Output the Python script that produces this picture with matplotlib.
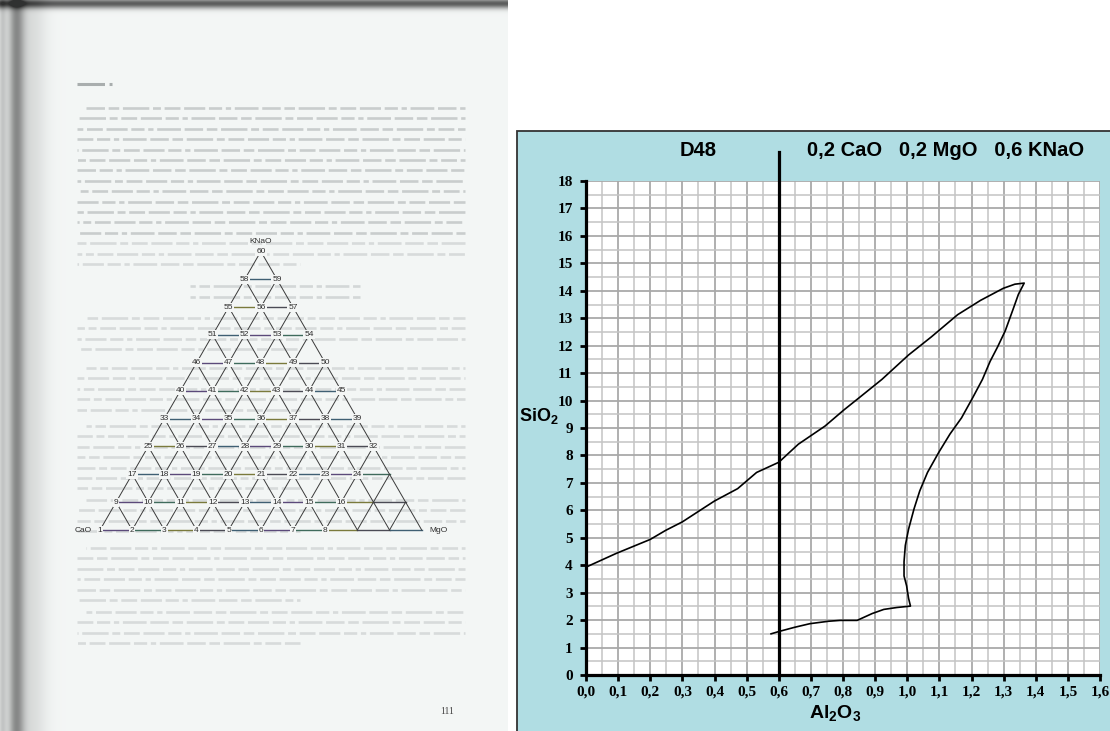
import numpy as np
import matplotlib
matplotlib.use("Agg")
import matplotlib.pyplot as plt
from matplotlib.patches import Rectangle

plt.rcParams['font.family'] = ['Liberation Sans', 'DejaVu Sans']
plt.rcParams['mathtext.fontset'] = 'custom'
plt.rcParams['mathtext.bf'] = 'Liberation Sans:bold'
plt.rcParams['mathtext.rm'] = 'Liberation Sans'

# ---------------- data: glaze field curve (D48) ----------------
al2o3 = [0.0, 0.094, 0.2, 0.248, 0.30, 0.342, 0.40, 0.472, 0.531, 0.60, 0.661, 0.744,
         0.803, 0.85, 0.921, 1.004, 1.075, 1.157, 1.228, 1.299, 1.335, 1.364,
         1.346, 1.328, 1.305, 1.281, 1.258, 1.234, 1.204, 1.169, 1.133, 1.098, 1.063,
         1.039, 1.021, 1.004, 0.994, 0.99, 0.99, 0.998, 1.004, 1.01,
         0.968, 0.927, 0.891, 0.844, 0.791, 0.756, 0.697, 0.65, 0.602, 0.576]
sio2 = [3.93, 4.43, 4.94, 5.27, 5.58, 5.90, 6.34, 6.79, 7.38, 7.75, 8.41, 9.07,
        9.66, 10.1, 10.77, 11.66, 12.32, 13.13, 13.65, 14.09, 14.24, 14.28,
        13.87, 13.28, 12.54, 11.95, 11.43, 10.77, 10.11, 9.37, 8.78, 8.11, 7.38,
        6.71, 6.05, 5.31, 4.72, 4.13, 3.61, 3.25, 2.80, 2.51,
        2.46, 2.39, 2.24, 1.99, 1.99, 1.96, 1.87, 1.74, 1.59, 1.50]
limit_al2o3 = 0.6
x_ticks = [0.0, 0.1, 0.2, 0.3, 0.4, 0.5, 0.6, 0.7, 0.8, 0.9, 1.0, 1.1, 1.2, 1.3, 1.4, 1.5, 1.6]
x_tick_labels = ["0,0", "0,1", "0,2", "0,3", "0,4", "0,5", "0,6", "0,7", "0,8", "0,9",
                 "1,0", "1,1", "1,2", "1,3", "1,4", "1,5", "1,6"]
y_ticks = list(range(0, 19))
y_tick_labels = [str(v) for v in y_ticks]
title_left = "D48"
title_right = "0,2 CaO   0,2 MgO   0,6 KNaO"
x_label = r"$\mathbf{Al_2O_3}$"
y_label = r"$\mathbf{SiO_2}$"

# ---------------- data: ternary diagram on the book page ----------------
tri_row_labelled = [8, 8, 8, 8, 7, 6, 5, 4, 3, 2, 1]   # numbered points per row
tri_corner_labels = ["CaO", "MgO", "KNaO"]
page_number = "111"

W, H = 1110, 731
fig = plt.figure(figsize=(W / 100, H / 100), dpi=100)
fig.patch.set_facecolor('white')

bg = fig.add_axes([0, 0, 1, 1])
bg.set_xlim(0, W)
bg.set_ylim(H, 0)
bg.axis('off')

# ---- scanned page background ----
PW = 508
xx = np.arange(PW)
yy = np.arange(H)
base = np.array([0.955, 0.965, 0.962])
dark_x = 0.42 * np.exp(-((xx - 16) / 8.0) ** 2) + 0.10 * np.exp(-((xx - 32) / 14.0) ** 2) \
    + 0.18 * np.exp(-((xx - 2) / 4.0) ** 2)
dark_y = 0.62 * np.exp(-((yy - 3) / 5.0) ** 2)
shade = 1 - np.clip(dark_x[None, :] + dark_y[:, None], 0, 0.8)
img = base[None, None, :] * shade[..., None]
bg.imshow(img, extent=(0, PW, H, 0), aspect='auto', zorder=0, interpolation='bilinear')

# faint body text of the page (illegible in the scan) shown as word strokes
page_col = (0.955, 0.965, 0.962)
word = (7, 1.4, 4, 1.4, 10, 1.4, 3, 1.4, 6, 1.4, 8, 1.4, 5, 1.4, 2, 1.4, 9, 1.4)
bg.plot([77, 112], [84, 84], color='#a9aeae', lw=2.2, ls=(0, (9, 1.5, 14, 1.5)), zorder=1)
paras = [(108, 16), (318, 4), (368, 5), (426, 7), (500, 4), (548, 6), (612, 4)]
line_no = 0
for y_start, n in paras:
    for k in range(n):
        y = y_start + 10.4 * k
        xs = 86 if k == 0 else 77
        xe = 300 if k == n - 1 else 465
        col = '#c9cdcd' if y < 240 else '#d7dbdb'
        bg.plot([xs, xe], [y, y], color=col, lw=1.9, ls=((line_no * 13) % 40, word), zorder=1)
        line_no += 1
for y in (286, 297):
    bg.plot([190, 360], [y, y], color='#d3d7d7', lw=1.9, ls=(5, word), zorder=1)

# ---- ternary triangle ----
x0, y0, s, h = 100.0, 530.0, 32.17, 27.86
nrows = len(tri_row_labelled)


def tri_pt(r, i):
    return x0 + (i + r / 2.0) * s, y0 - r * h


hcols = ['#5b4a7a', '#3f6b5c', '#7a7a3c', '#4b4b55', '#3f5f73']
seg = 0
for r in range(nrows):
    npts = nrows - r
    for i in range(npts - 1):
        xa, ya = tri_pt(r, i)
        xb, yb = tri_pt(r, i + 1)
        bg.plot([xa, xb], [ya, yb], color=hcols[seg % len(hcols)], lw=1.0, zorder=2)
        seg += 1
for i in range(nrows):
    xa, ya = tri_pt(0, i)
    xb, yb = tri_pt(nrows - 1 - i, i)
    bg.plot([xa, xb], [ya, yb], color='#3a3a3a', lw=0.7, zorder=2)
for k in range(nrows):
    xa, ya = tri_pt(0, k)
    xb, yb = tri_pt(k, 0)
    bg.plot([xa, xb], [ya, yb], color='#3a3a3a', lw=0.7, zorder=2)

num = 1
for r in range(nrows):
    for i in range(tri_row_labelled[r]):
        px, py = tri_pt(r, i)
        bg.text(px, py, str(num), fontsize=6, ha='center', va='center', color='#2e2e2e',
                zorder=3, bbox=dict(boxstyle='square,pad=0.12', fc=page_col, ec='none'))
        num += 1
lx, ly = tri_pt(0, 0)
rx, ry = tri_pt(0, nrows - 1)
ax_, ay_ = tri_pt(nrows - 1, 0)
bg.text(lx - 8, ly, tri_corner_labels[0], fontsize=6, ha='right', va='center', color='#2e2e2e', zorder=3)
bg.text(rx + 8, ry, tri_corner_labels[1], fontsize=6, ha='left', va='center', color='#2e2e2e', zorder=3)
bg.text(ax_, ay_ - 10, tri_corner_labels[2], fontsize=6, ha='center', va='center', color='#2e2e2e', zorder=3)
bg.text(447, 711, page_number, fontsize=7, ha='center', va='center', color='#444444',
        family=['Liberation Serif', 'DejaVu Serif'], zorder=3)

# ---- blue chart panel ----
bg.add_patch(Rectangle((517, 131), 620, 640, facecolor='#b0dde3', edgecolor='#333333',
                       lw=1.3, zorder=1))
bg.text(698, 151, title_left, fontsize=14.5, fontweight='bold', ha='center', va='center', zorder=3)
bg.text(807, 151, title_right, fontsize=14.5, fontweight='bold', ha='left', va='center', zorder=3)
bg.text(519, 416, y_label, fontsize=13, ha='left', va='center', zorder=3)
bg.text(835, 713, x_label, fontsize=14, ha='center', va='center', zorder=3)

# ---- the chart itself ----
L, R, T, B = 586, 1100, 181, 675
ax = fig.add_axes([L / W, 1 - B / H, (R - L) / W, (B - T) / H])
ax.set_facecolor('white')
ax.set_xlim(0, 1.6)
ax.set_ylim(0, 18)
for v in np.arange(0.05, 1.6, 0.1):
    ax.axvline(v, color='#c4c4c4', lw=1.1, zorder=1)
for v in np.arange(0.1, 1.61, 0.1):
    ax.axvline(v, color='#a9a9a9', lw=1.3, zorder=1)
for v in np.arange(0.5, 18, 1.0):
    ax.axhline(v, color='#c4c4c4', lw=1.1, zorder=1)
for v in range(1, 19):
    ax.axhline(v, color='#a9a9a9', lw=1.3, zorder=1)

ax.plot(al2o3, sio2, color='black', lw=1.2, zorder=3)
ax.plot([limit_al2o3, limit_al2o3], [0, 19.05], color='black', lw=2.3, zorder=4, clip_on=False)

for sp in ('top', 'right'):
    ax.spines[sp].set_visible(False)
for sp in ('left', 'bottom'):
    ax.spines[sp].set_linewidth(2.3)
    ax.spines[sp].set_zorder(5)
ax.set_xticks(x_ticks)
ax.set_xticklabels(x_tick_labels)
ax.set_yticks(y_ticks)
ax.set_yticklabels(y_tick_labels)
ax.tick_params(axis='both', direction='out', length=4.5, width=2.0, color='black')
ax.tick_params(axis='x', pad=3)
ax.tick_params(axis='y', pad=5)
for lab in ax.get_xticklabels() + ax.get_yticklabels():
    lab.set_family(['Liberation Serif', 'DejaVu Serif'])
    lab.set_fontweight('bold')
    lab.set_fontsize(11)

fig.savefig('out.png', dpi=100)
